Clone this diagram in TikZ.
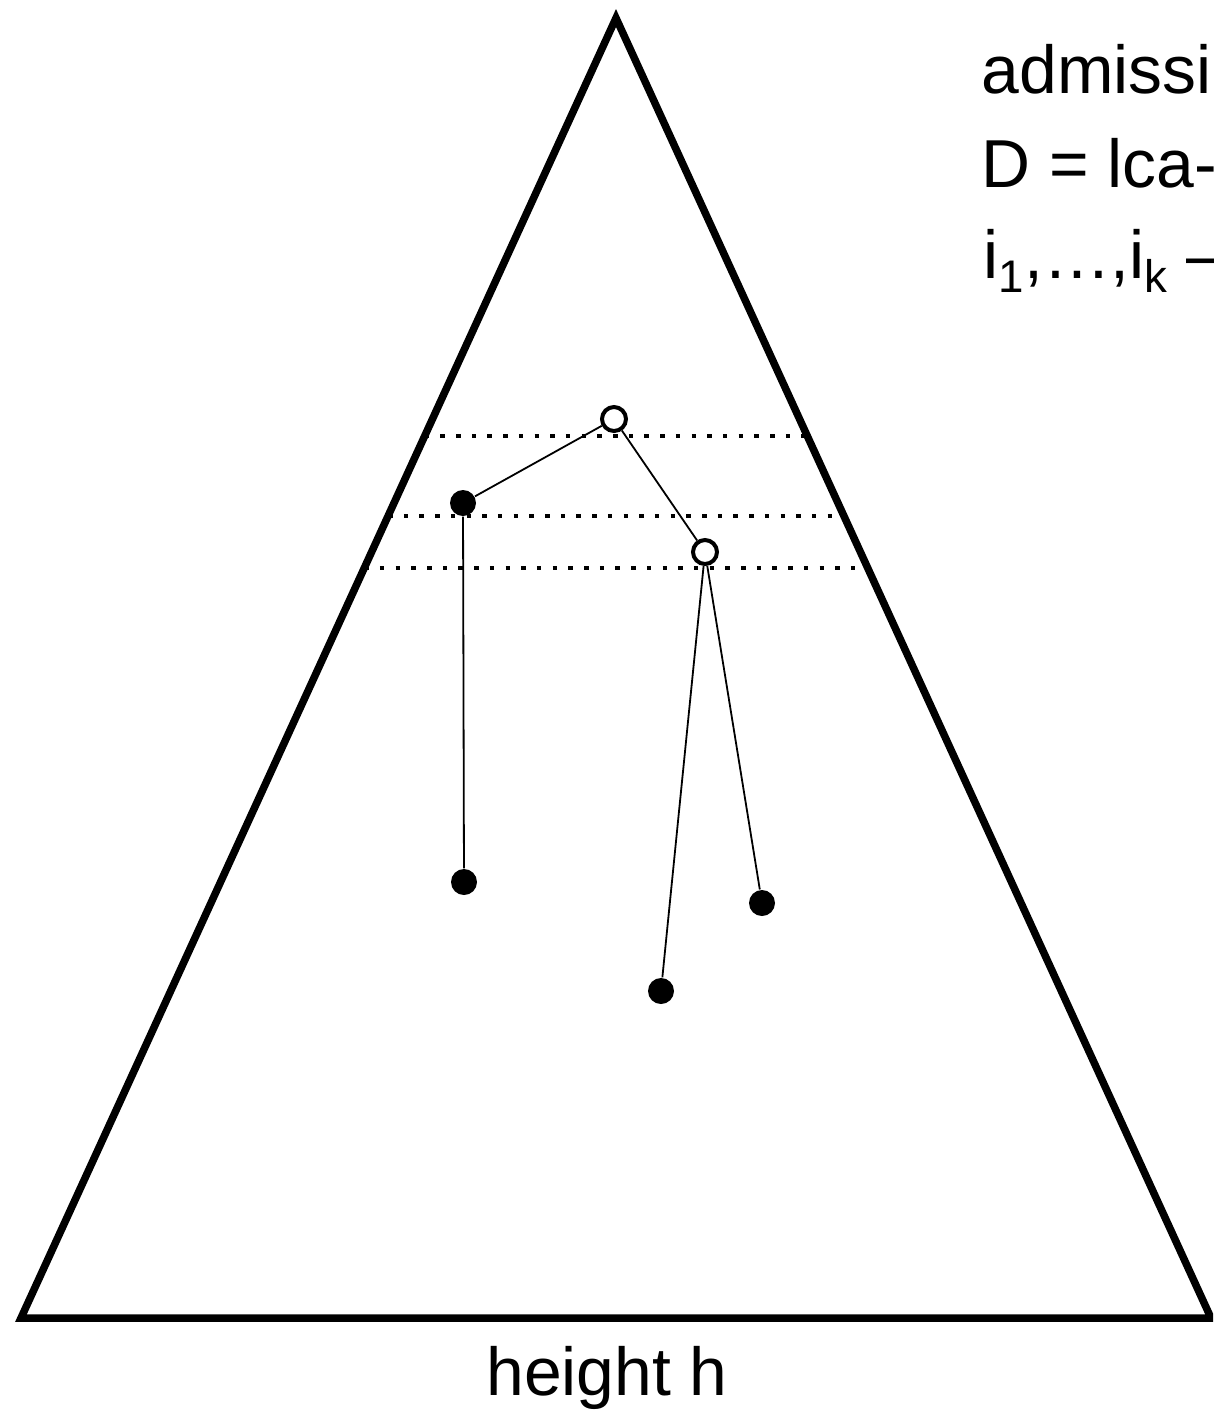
\documentclass[tikz,border=0pt]{standalone}
\usepackage{fontspec}
\setmainfont{Liberation Sans}
\usetikzlibrary{calc}
\newcommand{\lowsub}[1]{\raisebox{-0.4ex}{\fontsize{13}{15}\selectfont #1}}
\tikzset{
  tri/.style={line width=0.75mm, line join=miter},
  opennode/.style={circle, draw, line width=0.4mm, fill=white,
    minimum size=2.4mm, inner sep=0pt},
  fillnode/.style={circle, fill=black, minimum size=2.6mm, inner sep=0pt},
  branch/.style={line width=0.18mm},
  depthline/.style={line width=0.45mm, dash pattern=on 0.45mm off 1.12mm},
  lbl/.style={font=\fontsize{19.3}{23}\selectfont, inner sep=0pt},
}
\begin{document}
\begin{tikzpicture}[x=0.1mm, y=-0.1mm]
  \clip (0,0) rectangle (1213,1415);

  % tree of height h
  \coordinate (apex) at (616,18);
  \coordinate (bl) at (21,1318);
  \coordinate (br) at (1211,1318);
  \draw[tri] (apex) -- (bl) -- (br) -- cycle;

  % depth levels
  \foreach \yy in {436,516,568}
    \draw[depthline] ($(apex)!{(\yy-18)/1300}!(bl)$) -- ($(apex)!{(\yy-18)/1300}!(br)$);

  % vertices
  \node[opennode] (top) at (614,419) {};
  \node[fillnode] (u) at (463,503) {};
  \node[opennode] (v) at (705,552) {};
  \node[fillnode] (a) at (464,882) {};
  \node[fillnode] (b) at (661,991) {};
  \node[fillnode] (c) at (762,903) {};

  \draw[branch] (u) -- (top);
  \draw[branch] (top) -- (v);
  \draw[branch] (u) -- (a);
  \draw[branch] (v) -- (b);
  \draw[branch] (v) -- (c);

  % labels
  \node[lbl, anchor=base west] (adm) at (981,93) {admissi};
  \node[lbl, anchor=base west] (dlca) at (981,187) {D = lca-};
  \node[lbl, anchor=base west] (idx) at (983,278) {i\lowsub{1},\ldots,i\lowsub{k} –};
  \node[lbl, anchor=base] (hgt) at (607,1395) {height h};
\end{tikzpicture}
\end{document}
